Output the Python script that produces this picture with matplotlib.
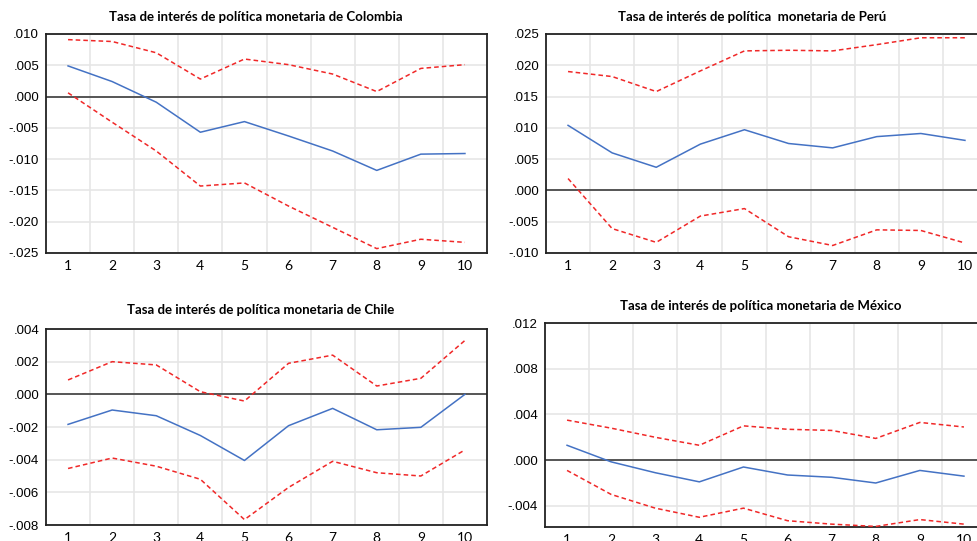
import matplotlib.pyplot as plt
from matplotlib.ticker import FuncFormatter
import numpy as np

periods = list(range(1, 11))

# Colombia
col_resp = [0.0049, 0.0024, -0.0009, -0.0057, -0.0040, -0.0063, -0.0087, -0.0118, -0.0092, -0.0091]
col_up = [0.0091, 0.0088, 0.0070, 0.0028, 0.0060, 0.0051, 0.0036, 0.0008, 0.0045, 0.0051]
col_lo = [0.0006, -0.0041, -0.0087, -0.0143, -0.0138, -0.0175, -0.0209, -0.0243, -0.0228, -0.0233]

# Peru
per_resp = [0.0104, 0.0060, 0.0037, 0.0074, 0.0097, 0.0075, 0.0068, 0.0086, 0.0091, 0.0080]
per_up = [0.0190, 0.0182, 0.0158, 0.0191, 0.0223, 0.0224, 0.0223, 0.0233, 0.0244, 0.0244]
per_lo = [0.0019, -0.0061, -0.0083, -0.0041, -0.0029, -0.0074, -0.0088, -0.0063, -0.0064, -0.0084]

# Chile
chi_resp = [-0.00184, -0.00096, -0.00131, -0.00252, -0.00405, -0.00192, -0.00086, -0.00217, -0.00202, 0.0000]
chi_up = [0.00088, 0.0020, 0.0018, 0.00016, -0.00041, 0.0019, 0.0024, 0.00051, 0.00098, 0.0033]
chi_lo = [-0.00454, -0.0039, -0.0044, -0.0052, -0.00767, -0.0057, -0.0041, -0.0048, -0.0050, -0.0034]

# Mexico
mex_resp = [0.0013, -0.00015, -0.0011, -0.0019, -0.0006, -0.0013, -0.0015, -0.0020, -0.0009, -0.0014]
mex_up = [0.0035, 0.0028, 0.0020, 0.0013, 0.0030, 0.0027, 0.0026, 0.0019, 0.0033, 0.0029]
mex_lo = [-0.0009, -0.0030, -0.0042, -0.0050, -0.0042, -0.0053, -0.0056, -0.0058, -0.0052, -0.0056]

titles = ["Tasa de interés de política monetaria de Colombia",
          "Tasa de interés de política  monetaria de Perú",
          "Tasa de interés de política monetaria de Chile",
          "Tasa de interés de política monetaria de México"]

W, H = 977, 541
fig = plt.figure(figsize=(W / 100, H / 100), dpi=100)


def fmt(v, pos):
    s = f"{v:.3f}"
    return s.replace("0.", ".", 1)


def panel(rect, resp, up, lo, ylim, yticks, title, tpos):
    l, t, r, b = rect
    ax = fig.add_axes([l / W, 1 - b / H, (r - l) / W, (b - t) / H])
    ax.set_xlim(0.5, 10.5)
    ax.set_ylim(*ylim)
    ax.set_yticks(yticks)
    ax.set_xticks(periods)
    ax.set_xticks(np.arange(1.5, 10, 1), minor=True)
    ax.yaxis.set_major_formatter(FuncFormatter(fmt))
    ax.grid(axis='y', which='major', color='#e6e6e6', lw=1.2)
    ax.grid(axis='x', which='minor', color='#e6e6e6', lw=1.2)
    ax.set_axisbelow(True)
    ax.tick_params(which='both', length=0, pad=5)
    for lab in ax.get_yticklabels():
        lab.set_fontfamily('Liberation Sans')
        lab.set_fontsize(9.5)
    for lab in ax.get_xticklabels():
        lab.set_fontfamily('Lato')
        lab.set_fontsize(10)
    for sp in ax.spines.values():
        sp.set_linewidth(1.3)
        sp.set_color('#222222')
    ax.axhline(0, color='#555555', lw=1.4, zorder=2)
    ax.plot(periods, up, color='#f02828', lw=1.1, ls=(0, (3, 2)), zorder=3)
    ax.plot(periods, lo, color='#f02828', lw=1.1, ls=(0, (3, 2)), zorder=3)
    ax.plot(periods, resp, color='#4472c4', lw=1.1, zorder=4)
    fig.text(tpos[0] / W, 1 - tpos[1] / H, title, ha='center', va='center',
             fontfamily='Lato', fontweight='bold', fontsize=9.5)
    return ax


panel((46, 34, 487, 253), col_resp, col_up, col_lo, (-0.025, 0.010),
      np.arange(-0.025, 0.0101, 0.005), titles[0], (256, 17))
panel((546, 34, 987, 253), per_resp, per_up, per_lo, (-0.010, 0.025),
      np.arange(-0.010, 0.0251, 0.005), titles[1], (752, 17))
panel((46, 329, 487, 525), chi_resp, chi_up, chi_lo, (-0.008, 0.004),
      np.arange(-0.008, 0.00401, 0.002), titles[2], (261, 310))
panel((545, 323, 986, 527), mex_resp, mex_up, mex_lo, (-0.00585, 0.012),
      np.arange(-0.004, 0.01201, 0.004), titles[3], (761, 306))

fig.savefig('out.png', dpi=100)
